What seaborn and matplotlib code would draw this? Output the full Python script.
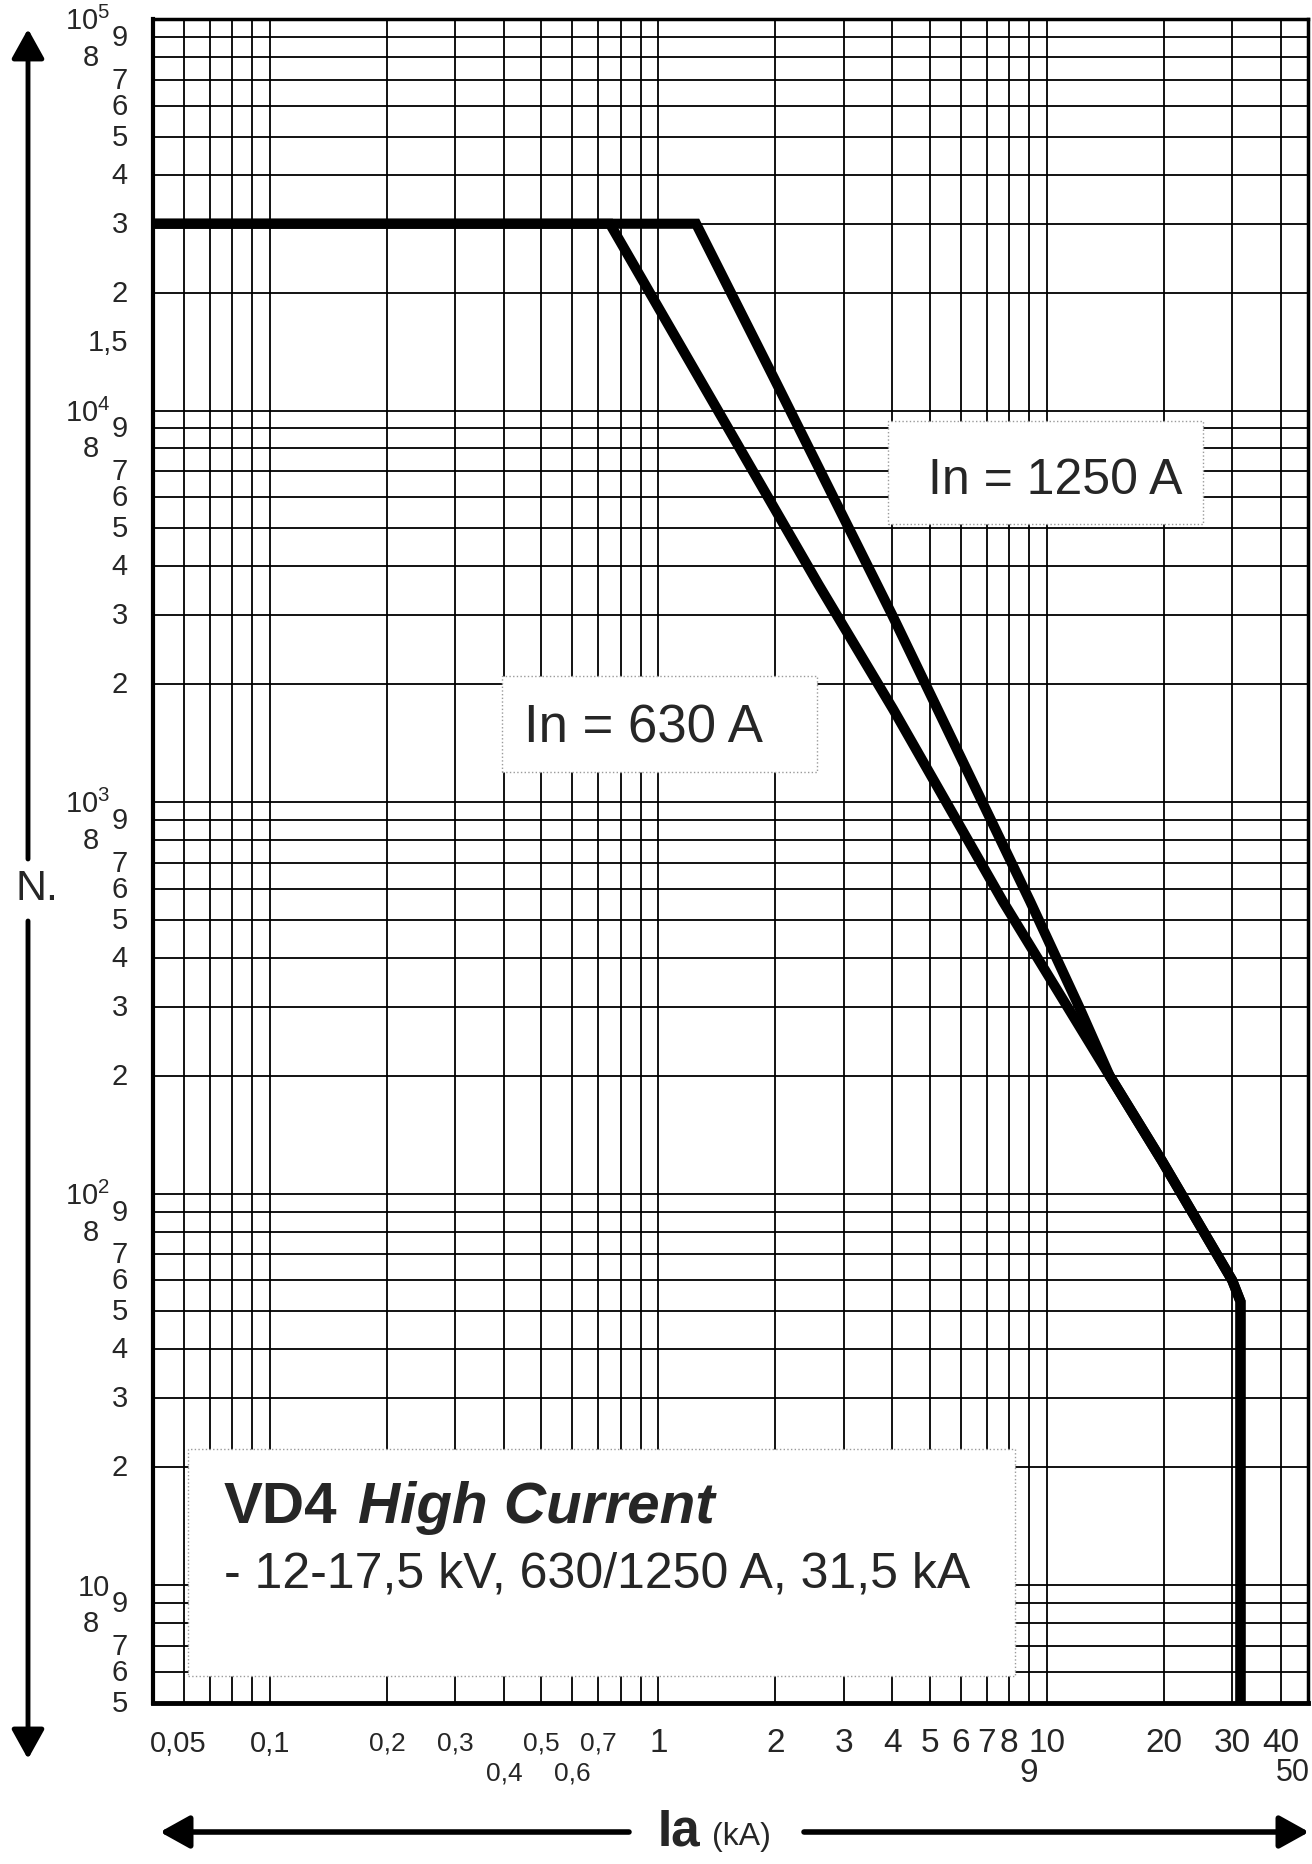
import matplotlib
matplotlib.use("Agg")
import matplotlib.pyplot as plt
import pandas as pd
import seaborn as sns
from matplotlib.patches import Rectangle, FancyArrowPatch
from matplotlib.ticker import FixedLocator, NullLocator

# curves: Ia in kA, N = number of operations
ia_630 = [0.05, 0.75, 2.58, 4.02, 7.7, 14.5, 19.8, 30, 31.5, 31.5]
n_630 = [30000, 30000, 3600, 1726, 558, 200, 121, 60, 53, 5]
ia_1250 = [0.05, 1.25, 2.0, 4.0, 9.05, 12.1, 14.5, 19.8, 30, 31.5, 31.5]
n_1250 = [30000, 30000, 11900, 3000, 558, 300, 200, 121, 60, 53, 5]

# grid of the log paper
x_grid = [0.06, 0.07, 0.08, 0.09, 0.1, 0.2, 0.3, 0.4, 0.5, 0.6, 0.7, 0.8, 0.9,
          1, 2, 3, 4, 5, 6, 7, 8, 9, 10, 20, 30, 40, 50]
y_grid = [6, 7, 8, 9, 10, 20, 30, 40, 50, 60, 70, 80, 90,
          100, 200, 300, 400, 500, 600, 700, 800, 900,
          1000, 2000, 3000, 4000, 5000, 6000, 7000, 8000, 9000,
          10000, 20000, 30000, 40000, 50000, 60000, 70000, 80000, 90000, 100000]

# tick labels
x_row1 = [0.05, 0.1, 0.2, 0.3, 0.5, 0.7, 1, 2, 3, 4, 5, 6, 7, 8, 10, 20, 30, 40]
x_row1_labels = ["0,05", "0,1", "0,2", "0,3", "0,5", "0,7", "1", "2", "3", "4",
                 "5", "6", "7", "8", "10", "20", "30", "40"]
x_row2 = [0.4, 0.6, 9, 50]
x_row2_labels = ["0,4", "0,6", "9", "50"]

y_decades = [100000, 10000, 1000, 100, 10]
y_decade_labels = [r"$\mathregular{10^5}$", r"$\mathregular{10^4}$",
                   r"$\mathregular{10^3}$", r"$\mathregular{10^2}$", "10"]
y_digits = [9, 7, 6, 5, 4, 3, 2]
y_eights = [80000, 8000, 800, 80, 8]

sns.set_style("white")
plt.rcParams['font.family'] = ['Liberation Sans', 'DejaVu Sans']

W, H, DPI = 1312, 1865, 100
fig = plt.figure(figsize=(W / DPI, H / DPI), dpi=DPI)
fig.patch.set_facecolor("white")
ax = fig.add_axes([153 / W, 1 - 1704 / H, (1308 - 153) / W, (1704 - 20) / H])

df = pd.concat([
    pd.DataFrame({"Ia": ia_630, "N": n_630, "In": "630 A"}),
    pd.DataFrame({"Ia": ia_1250, "N": n_1250, "In": "1250 A"}),
], ignore_index=True)

ax.set_xscale("log")
ax.set_yscale("log")
sns.lineplot(data=df, x="Ia", y="N", hue="In", palette=["black", "black"],
             sort=False, estimator=None, linewidth=7.3, legend=False, ax=ax, zorder=4)
for ln in ax.lines:
    ln.set_solid_joinstyle("miter")
    ln.set_solid_capstyle("butt")

ax.set_xlim(0.05, 47)
ax.set_ylim(5, 100000)
ax.set_xlabel("")
ax.set_ylabel("")

# grid lines
ax.xaxis.set_major_locator(FixedLocator(x_grid))
ax.xaxis.set_minor_locator(NullLocator())
ax.yaxis.set_major_locator(FixedLocator(y_grid))
ax.yaxis.set_minor_locator(NullLocator())
ax.tick_params(which="both", length=0, labelbottom=False, labelleft=False)
ax.set_axisbelow(True)
ax.grid(True, which="major", color="black", linewidth=1.3)

for side, lw in [("left", 3), ("bottom", 3.5), ("top", 2.5), ("right", 2.5)]:
    ax.spines[side].set_visible(True)
    ax.spines[side].set_color("black")
    ax.spines[side].set_linewidth(lw)

# x labels (two staggered rows)
xt = ax.get_xaxis_transform()
for v, lab in zip(x_row1, x_row1_labels):
    if v < 0.15:
        fs = 21
    elif v < 1:
        fs = 19
    else:
        fs = 24
    ha = "left" if v == 0.05 else "center"
    ax.annotate(lab, xy=(v, 0), xycoords=xt, xytext=(-3 if v == 0.05 else 0, -40),
                textcoords="offset pixels", ha=ha, va="center", fontsize=fs,
                annotation_clip=False)
for v, lab in zip(x_row2, x_row2_labels):
    fs = 19 if v < 1 else 24
    if v > 47:
        # the 50 sits at the cut right edge of the sheet
        ax.annotate(lab, xy=(47, 0), xycoords=xt, xytext=(2, -69),
                    textcoords="offset pixels", ha="right", va="center",
                    fontsize=22, annotation_clip=False)
    else:
        ax.annotate(lab, xy=(v, 0), xycoords=xt, xytext=(0, -70),
                    textcoords="offset pixels", ha="center", va="center",
                    fontsize=fs, annotation_clip=False)

# y labels
yt = ax.get_yaxis_transform()
for d, lab in zip(y_decades, y_decade_labels):
    ax.annotate(lab, xy=(0, d), xycoords=yt, xytext=(-43, -10),
                textcoords="offset pixels", ha="right", va="baseline",
                fontsize=21, annotation_clip=False)
    for k in y_digits:
        val = k * d / 10
        if val < 5:
            continue
        ax.annotate(str(k), xy=(0, val), xycoords=yt, xytext=(-25, 0),
                    textcoords="offset pixels", ha="right", va="center",
                    fontsize=21, annotation_clip=False)
for val in y_eights:
    ax.annotate("8", xy=(0, val), xycoords=yt, xytext=(-54, 0),
                textcoords="offset pixels", ha="right", va="center",
                fontsize=21, annotation_clip=False)
ax.annotate("1,5", xy=(0, 15000), xycoords=yt, xytext=(-25, 0),
            textcoords="offset pixels", ha="right", va="center",
            fontsize=21, annotation_clip=False)

# white label boxes
box_style = dict(transform=ax.transAxes, facecolor="white", edgecolor="#9a9a9a",
                 linewidth=1, linestyle=":", zorder=3)
ax.add_patch(Rectangle((0.030, 0.016), 0.716, 0.135, **box_style))
ax.add_patch(Rectangle((0.636, 0.700), 0.273, 0.061, **box_style))
ax.add_patch(Rectangle((0.302, 0.553), 0.273, 0.057, **box_style))

ax.text(0.781, 0.7185, "In = 1250 A", transform=ax.transAxes, ha="center",
        va="baseline", fontsize=36, zorder=5)
ax.text(0.425, 0.5707, "In = 630 A", transform=ax.transAxes, ha="center",
        va="baseline", fontsize=38, zorder=5)

t1 = ax.text(0.0615, 0.1075, "VD4", transform=ax.transAxes, ha="left",
             va="baseline", fontsize=42, fontweight="bold", zorder=5)
ax.annotate("High Current", xy=(1, 0), xycoords=t1, xytext=(20, 0),
            textcoords="offset pixels", ha="left", va="bottom", fontsize=42,
            fontweight="bold", fontstyle="italic", zorder=5)
ax.text(0.0615, 0.0689, "- 12-17,5 kV, 630/1250 A, 31,5 kA", transform=ax.transAxes,
        ha="left", va="baseline", fontsize=36, zorder=5)

# axis names and arrows outside the frame
fig.text(37 / W, 1 - 889 / H, "N.", fontsize=31, ha="center", va="center")
fig.text(658 / W, 1 - 1846 / H, "Ia", fontsize=37, fontweight="bold",
         ha="left", va="baseline")
fig.text(712 / W, 1 - 1845 / H, "(kA)", fontsize=23, ha="left", va="baseline")


def px(x, y):
    return (x / W, 1 - y / H)


arrow_kw = dict(transform=fig.transFigure, arrowstyle="-|>,head_length=0.9,head_width=0.5",
                mutation_scale=20, color="black", shrinkA=0, shrinkB=0)
fig.add_artist(FancyArrowPatch(px(28, 860), px(28, 30), lw=3.5, **arrow_kw))
fig.add_artist(FancyArrowPatch(px(28, 922), px(28, 1760), lw=3.5, **arrow_kw))
fig.add_artist(FancyArrowPatch(px(629, 1833), px(160, 1833), lw=4, **arrow_kw))
fig.add_artist(FancyArrowPatch(px(804, 1833), px(1309, 1833), lw=4, **arrow_kw))

fig.savefig("out.png", dpi=DPI, facecolor="white")
